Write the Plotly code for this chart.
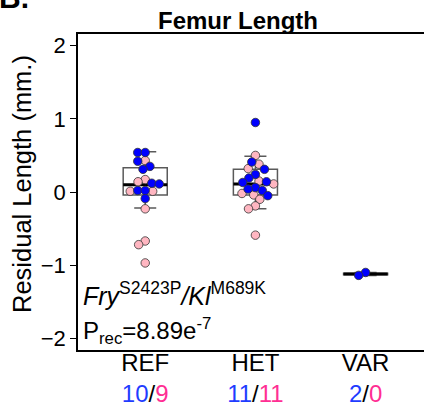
import numpy as np
import plotly.graph_objects as go

# ---------------- data ----------------
groups = ["REF", "HET", "VAR"]
male_counts = [10, 11, 2]
female_counts = [9, 11, 0]

ref_blue = [0.54, 0.54, 0.42, 0.35, 0.31, 0.12, 0.11, 0.02, 0.02, -0.09]
ref_pink = [0.43, 0.17, 0.14, 0.01, 0.01, -0.23, -0.67, -0.72, -0.97]
het_blue = [0.95, 0.41, 0.31, 0.24, 0.19, 0.14, 0.13, 0.06, 0.04, 0.02, -0.05]
het_pink = [0.50, 0.38, 0.32, 0.15, 0.11, -0.02, -0.04, -0.10, -0.19, -0.23, -0.59]
var_blue = [-1.10, -1.14]
var_pink = []

box_q1 = [-0.04, -0.04, -1.13]
box_median = [0.10, 0.11, -1.12]
box_q3 = [0.33, 0.31, -1.11]
box_low = [-0.22, -0.23, -1.14]
box_high = [0.55, 0.49, -1.10]

y_ticks = [-2, -1, 0, 1, 2]

title_text = "Femur Length"
y_title = "Residual Length (mm.)"
genotype_label = "<i>Fry</i><sup>S2423P</sup><i>/Kl</i><sup>M689K</sup>"
p_label = "P<sub>rec</sub>=8.89e<sup>-7</sup>"

# ---------------- layout constants ----------------
W, H = 424, 412
ML, MR, MT, MB = 78, 0, 34, 62
XR = [0.39, 3.53]
YR = [-2.16, 2.16]
PW, PH = W - ML - MR, H - MT - MB
px_per_x = PW / (XR[1] - XR[0])
px_per_y = PH / (YR[1] - YR[0])

BLUE = "#0000ff"
PINK = "#ffb6c1"
CNT_BLUE = "#1f3cff"
CNT_PINK = "#ff2e93"
BOX_W = 0.4


def swarm(values, diam=7.5):
    """Simple beeswarm: returns x offsets (data units) for each value."""
    order = np.argsort(-np.asarray(values))
    placed = []
    offs = np.zeros(len(values))
    for i in order:
        yp = values[i] * px_per_y
        cands = [0.0]
        for (xp, yq) in placed:
            dy = abs(yp - yq)
            if dy < diam:
                dx = np.sqrt(diam ** 2 - dy ** 2)
                cands += [xp + dx, xp - dx]
        cands = sorted(cands, key=lambda c: (abs(c), c))
        for c in cands:
            ok = all((c - xp) ** 2 + (yp - yq) ** 2 >= diam ** 2 - 1e-6 for (xp, yq) in placed)
            if ok:
                break
        placed.append((c, yp))
        offs[i] = c / px_per_x
    return offs


fig = go.Figure()

fig.add_trace(go.Box(
    x=[1, 2, 3], q1=box_q1, median=box_median, q3=box_q3,
    lowerfence=box_low, upperfence=box_high,
    width=BOX_W, whiskerwidth=0.5, boxpoints=False,
    line=dict(color="#5a5a5a", width=1.5), fillcolor="rgba(255,255,255,0)",
    showlegend=False, hoverinfo="skip",
))

for i, m in enumerate(box_median):
    xc = i + 1
    fig.add_trace(go.Scatter(
        x=[xc - BOX_W / 2, xc + BOX_W / 2], y=[m, m], mode="lines",
        line=dict(color="black", width=3), showlegend=False, hoverinfo="skip",
    ))

for i, (b, p) in enumerate([(ref_blue, ref_pink), (het_blue, het_pink), (var_blue, var_pink)]):
    vals = list(p) + list(b)
    cols = [PINK] * len(p) + [BLUE] * len(b)
    offs = swarm(vals)
    fig.add_trace(go.Scatter(
        x=[i + 1 + o for o in offs], y=vals, mode="markers",
        marker=dict(size=8.5, color=cols, line=dict(color="#333333", width=0.8)),
        showlegend=False, hoverinfo="skip",
    ))

ticktext = [
    f"{g}<br><span style='color:{CNT_BLUE}'>{m}</span>/<span style='color:{CNT_PINK}'>{f}</span>"
    for g, m, f in zip(groups, male_counts, female_counts)
]

FONT = "Liberation Sans, Arial, sans-serif"

fig.update_layout(
    width=W, height=H,
    margin=dict(l=ML, r=MR, t=MT, b=MB, autoexpand=False),
    paper_bgcolor="white", plot_bgcolor="white",
    font=dict(family=FONT, color="black"),
    title=dict(text=f"<b>{title_text}</b>", x=238 / W, xanchor="center",
               y=1 - 21 / H, yanchor="middle", font=dict(size=24, family=FONT)),
    xaxis=dict(range=XR, tickvals=[1, 2, 3], ticktext=ticktext, showgrid=False,
               zeroline=False, showline=True, linecolor="black", linewidth=1.5,
               mirror=True, ticks="", tickfont=dict(size=24, family=FONT),
               ticklabelstandoff=-10, automargin=False),
    yaxis=dict(range=YR, tickvals=y_ticks, showgrid=False, zeroline=False,
               showline=True, linecolor="black", linewidth=1.5, mirror=True,
               ticks="outside", ticklen=6, tickcolor="black",
               tickfont=dict(size=22, family=FONT), automargin=False),
)

fig.add_annotation(text=y_title, xref="paper", yref="paper",
                   x=(22 - ML) / PW, y=(H - MB - 184) / PH,
                   xanchor="center", yanchor="middle", textangle=-90,
                   showarrow=False, font=dict(size=25.5, family=FONT))
fig.add_annotation(text=genotype_label, xref="paper", yref="y",
                   x=3 / PW, y=-1.40, xanchor="left", yanchor="middle",
                   showarrow=False, font=dict(size=25, family=FONT))
fig.add_annotation(text=p_label, xref="paper", yref="y",
                   x=3 / PW, y=-1.90, xanchor="left", yanchor="middle",
                   showarrow=False, font=dict(size=24, family=FONT))
fig.add_annotation(text="<b>B.</b>", xref="paper", yref="paper",
                   x=(30 - ML) / PW, y=1 + (MT - 15) / PH, borderpad=0,
                   xanchor="right", yanchor="bottom", showarrow=False,
                   font=dict(size=30, family=FONT))

fig.write_html("out.html", config={"displayModeBar": False},
               post_script="document.body.style.margin='0px';document.body.style.overflow='hidden';")
